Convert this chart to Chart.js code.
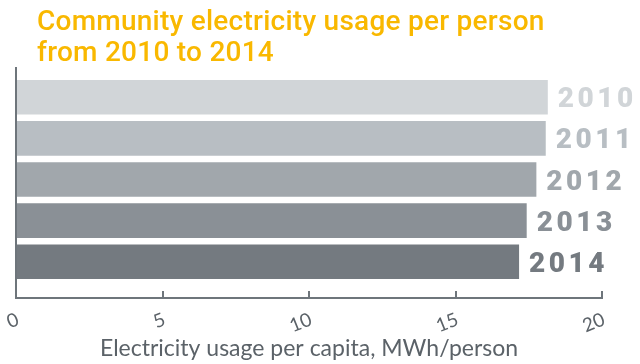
<!DOCTYPE html>
<html>
<head>
<meta charset="utf-8">
<script src="https://cdn.jsdelivr.net/npm/chart.js@4"></script>
<style>
  html, body { margin: 0; padding: 0; background: #fff; }
  #wrap { position: relative; width: 640px; height: 364px; }
  #title {
    position: absolute; left: 37px; top: 5px;
    font-family: Roboto, sans-serif; font-weight: 500; font-size: 28px;
    letter-spacing: 0.25px; line-height: 31px; color: #F9B800; white-space: nowrap;
  }
</style>
</head>
<body>
<div id="wrap">
  <canvas id="usageChart" width="640" height="364"></canvas>
  <div id="title">Community electricity usage per person<br>from 2010 to 2014</div>
</div>
<script>
const years = ['2010', '2011', '2012', '2013', '2014'];
const usage = [18.15, 18.08, 17.76, 17.43, 17.17];
const barColors = ['#D1D5D8', '#B8BEC3', '#A1A7AC', '#8A9096', '#747A80'];
const xTicks = [0, 5, 10, 15, 20];

const axisGrey = '#6E757B';

// year labels sit just past the end of each bar
const yearLabels = {
  id: 'yearLabels',
  afterDatasetsDraw(chart) {
    const ctx = chart.ctx;
    const meta = chart.getDatasetMeta(0);
    ctx.save();
    ctx.font = '900 28px Roboto, sans-serif';
    if ('letterSpacing' in ctx) ctx.letterSpacing = '3.5px';
    ctx.textAlign = 'left';
    ctx.textBaseline = 'alphabetic';
    meta.data.forEach((bar, i) => {
      ctx.fillStyle = barColors[i];
      ctx.fillText(years[i], bar.x + 10, bar.y + 10);
    });
    ctx.restore();
  }
};

const ctx = document.getElementById('usageChart').getContext('2d');
new Chart(ctx, {
  type: 'bar',
  data: {
    datasets: [{
      data: years.map((y, i) => ({ x: usage[i], y: i })),
      backgroundColor: barColors,
      borderWidth: 0,
      barPercentage: 0.84,
      categoryPercentage: 1
    }]
  },
  options: {
    indexAxis: 'y',
    responsive: false,
    animation: false,
    layout: { padding: { left: 16, right: 38, top: 68, bottom: 2 } },
    plugins: {
      legend: { display: false },
      tooltip: { enabled: false }
    },
    scales: {
      y: {
        type: 'linear',
        reverse: true,
        offset: false,
        min: -0.71,
        max: 4.88,
        // one tick per year keeps the bar spacing at one slot per year
        afterBuildTicks: (scale) => {
          scale.ticks = years.map((y, i) => ({ value: i }));
        },
        afterFit: (scale) => { scale.width = 0; },
        ticks: { display: false },
        grid: { display: false },
        border: { display: true, color: axisGrey, width: 2 }
      },
      x: {
        type: 'linear',
        min: 0,
        max: 20,
        afterBuildTicks: (scale) => {
          scale.ticks = xTicks.map(v => ({ value: v }));
        },
        // tighter axis box than the rotated labels ask for
        afterFit: (scale) => {
          scale.height = 64;
          scale.paddingLeft = 0;
          scale.paddingRight = 0;
        },
        grid: {
          drawOnChartArea: false,
          drawTicks: true,
          tickLength: -7,
          color: axisGrey,
          lineWidth: 2
        },
        border: { display: true, color: axisGrey, width: 2 },
        ticks: {
          minRotation: 22,
          maxRotation: 22,
          labelOffset: 2,
          padding: 17,
          color: '#5B6268',
          font: { family: 'Lato, sans-serif', size: 19 }
        },
        title: {
          display: true,
          text: 'Electricity usage per capita, MWh/person',
          color: '#5B6268',
          font: { family: 'Lato, sans-serif', size: 23 },
          padding: { top: -4, bottom: 0 }
        }
      }
    }
  },
  plugins: [yearLabels]
});
</script>
</body>
</html>
